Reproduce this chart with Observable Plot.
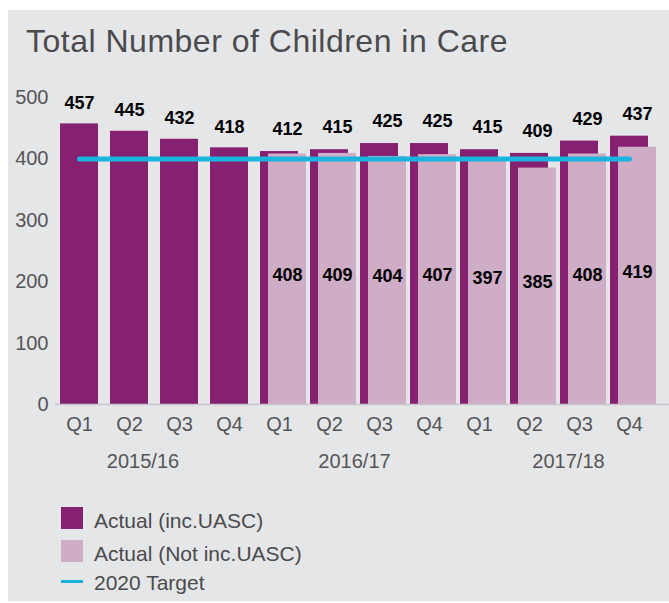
<!DOCTYPE html>
<html>
<head>
<meta charset="utf-8">
<script src="https://cdn.jsdelivr.net/npm/d3@7"></script>
<script src="https://cdn.jsdelivr.net/npm/@observablehq/plot@0.6"></script>
<style>
  html, body { margin: 0; padding: 0; background: #ffffff; width: 669px; height: 603px; overflow: hidden; }
  body { position: relative; font-family: "Liberation Sans", Arial, Helvetica, sans-serif; }
  #panel { position: absolute; left: 8px; top: 10px; width: 661px; height: 591px; background: #e5e6e8; }
  #title { position: absolute; left: 26px; top: 25px; font-size: 32px; line-height: 32px; color: #4b4b4d; letter-spacing: 0.5px; white-space: nowrap; }
  #chart { position: absolute; left: 0; top: 70px; }
  .lg { position: absolute; left: 94px; font-size: 21px; line-height: 22px; color: #4b4b4d; white-space: nowrap; }
  .sw { position: absolute; left: 61px; width: 22px; height: 22px; }
</style>
</head>
<body>
<div id="panel"></div>
<div id="title">Total Number of Children in Care</div>
<div id="chart"></div>
<div class="sw" style="top:507px;background:#862070"></div>
<div class="lg" style="top:510px">Actual (inc.UASC)</div>
<div class="sw" style="top:540px;background:#d0adc6"></div>
<div class="lg" style="top:543px">Actual (Not inc.UASC)</div>
<div class="sw" style="top:580px;height:3px;background:#1bb4df"></div>
<div class="lg" style="top:572px">2020 Target</div>
<script>
const years = ["2015/16", "2016/17", "2017/18"];
const quarters = ["Q1", "Q2", "Q3", "Q4"];
const actualInc = [457, 445, 432, 418, 412, 415, 425, 425, 415, 409, 429, 437];
const actualNotInc = [null, null, null, null, 408, 409, 404, 407, 397, 385, 408, 419];
const target = [400, 400, 400, 400, 400, 400, 400, 400, 400, 400, 400, 400];
const yTicks = [0, 100, 200, 300, 400, 500];

const rows = [];
years.forEach((yr, yi) => quarters.forEach((q, qi) => {
  const i = yi * 4 + qi;
  rows.push({key: yr + " " + q, year: yr, q, inc: actualInc[i], notInc: actualNotInc[i], target: target[i]});
}));
const withLight = rows.filter(d => d.notInc != null);
const noLight = rows.filter(d => d.notInc == null);
const keys = rows.map(d => d.key);
const yearDx = [59.5, 71, 85];

const DARK = "#862070", LIGHT = "#d0adc6", TARGET = "#1bb4df", AXIS = "#555557";

const chart = Plot.plot({
  width: 669,
  height: 410,
  marginLeft: 55,
  marginRight: 0,
  marginTop: 27,
  marginBottom: 76,
  style: {background: "transparent", fontFamily: "'Liberation Sans', Arial, Helvetica, sans-serif"},
  x: {domain: keys, paddingInner: 0.08, paddingOuter: 0.18, align: 0.278, axis: null},
  y: {domain: [0, 500], axis: null},
  marks: [
    Plot.barY(rows, {x: "key", y: "inc", fill: DARK, insetRight: 8, insetLeft: 0}),
    Plot.barY(withLight, {x: "key", y: "notInc", fill: LIGHT, insetLeft: 8, insetRight: 0}),
    Plot.ruleY([0], {stroke: "#c8c8ca", strokeWidth: 1.5}),
    Plot.axisY({ticks: yTicks, tickSize: 0, tickPadding: 7, fontSize: 20, fill: AXIS, label: null}),
    Plot.axisX({tickSize: 0, tickPadding: 12, fontSize: 20, fill: AXIS, label: null, dx: -4, tickFormat: k => k.split(" ")[1]}),
    ...years.map((yr, i) => Plot.text([yr], {x: () => yr + " Q1", text: d => d, frameAnchor: "bottom", dy: 63, dx: yearDx[i], fontSize: 20, fill: AXIS})),
    Plot.lineY(rows, {x: "key", y: "target", stroke: TARGET, strokeWidth: 5, strokeLinecap: "round", dx: -4}),
    Plot.text(noLight, {x: "key", y: "inc", text: d => String(d.inc), dy: -21, dx: -4, fontSize: 18, fontWeight: "bold", fill: "#000"}),
    Plot.text(withLight, {x: "key", y: "inc", text: d => String(d.inc), dy: -22, dx: 4, fontSize: 18, fontWeight: "bold", fill: "#000"}),
    Plot.text(withLight, {x: "key", y: d => d.notInc / 2, text: d => String(d.notInc), dy: -4, dx: 4, fontSize: 18, fontWeight: "bold", fill: "#000"})
  ]
});
document.getElementById("chart").appendChild(chart);
</script>
</body>
</html>
